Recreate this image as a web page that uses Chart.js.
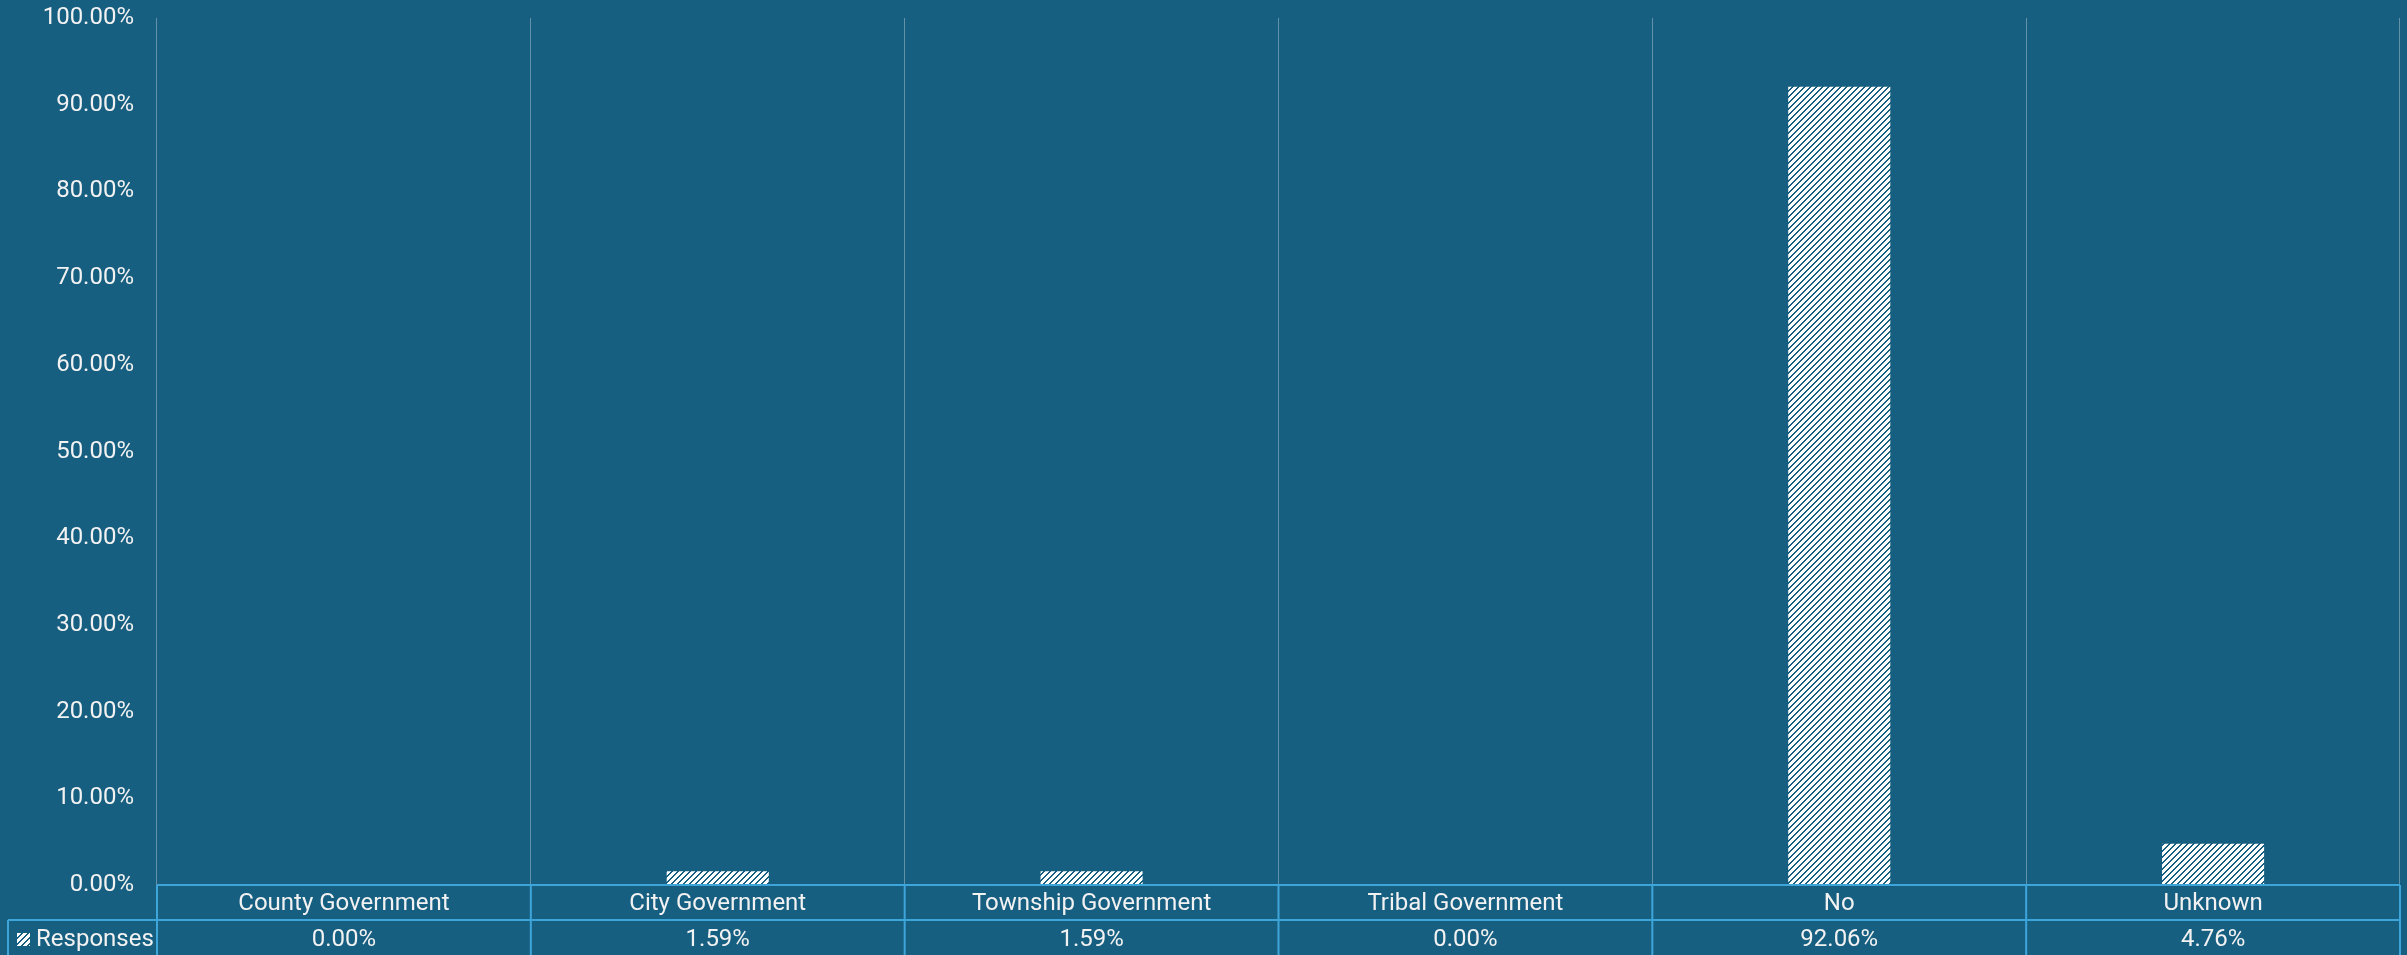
<!DOCTYPE html>
<html>
<head>
<meta charset="utf-8">
<title>Responses</title>
<script src="https://cdn.jsdelivr.net/npm/chart.js@4.4.1/dist/chart.umd.min.js"></script>
<style>
  html, body { margin: 0; padding: 0; background: #175f80; overflow: hidden; }
  #chart { display: block; }
</style>
</head>
<body>
<canvas id="chart" width="2407" height="955"></canvas>
<script>
const categories = ['County Government', 'City Government', 'Township Government', 'Tribal Government', 'No', 'Unknown'];
const responses = [0.00, 1.59, 1.59, 0.00, 92.06, 4.76];
const seriesName = 'Responses';
const yTicks = [0, 10, 20, 30, 40, 50, 60, 70, 80, 90, 100];

const BG = '#175f80';
const TEXT = '#f2f2f2';
const TABLE_LINE = '#3ea5da';
const GRID = 'rgba(255,255,255,0.32)';
const FONT = 'Roboto, "Liberation Sans", sans-serif';
const FONT_SIZE = 24;

// white tile with dark "/" stripes, like Excel's wide upward diagonal
const makeHatch = () => {
    const size = 6;
    const c = document.createElement('canvas');
    c.width = size; c.height = size;
    const g = c.getContext('2d');
    const img = g.createImageData(size, size);
    for (let y = 0; y < size; y++) {
        for (let x = 0; x < size; x++) {
            const dark = (x + y) % size < 2;
            const i = (y * size + x) * 4;
            img.data[i] = dark ? 23 : 255;
            img.data[i + 1] = dark ? 95 : 255;
            img.data[i + 2] = dark ? 128 : 255;
            img.data[i + 3] = 255;
        }
    }
    g.putImageData(img, 0, 0);
    return c;
};

const ctx = document.getElementById('chart').getContext('2d');
const hatch = ctx.createPattern(makeHatch(), 'repeat');

const bgPlugin = {
    id: 'bg',
    beforeDraw(chart) {
        const c = chart.ctx;
        c.save();
        c.fillStyle = BG;
        c.fillRect(0, 0, chart.width, chart.height);
        c.restore();
    }
};

// data table under the plot (Excel style)
const tablePlugin = {
    id: 'dataTable',
    afterDraw(chart) {
        const c = chart.ctx;
        const area = chart.chartArea;
        const xs = chart.scales.x;
        const n = categories.length;
        const step = (area.right - area.left) / n;
        const rowTop = area.bottom;
        const rowMid = rowTop + 35;
        const rowBot = chart.height;
        const legendLeft = 8;

        c.save();
        c.strokeStyle = TABLE_LINE;
        c.lineWidth = 2;
        c.beginPath();
        c.moveTo(area.left, rowTop); c.lineTo(area.right, rowTop);
        c.moveTo(legendLeft, rowMid); c.lineTo(area.right, rowMid);
        for (let i = 0; i <= n; i++) {
            const x = area.left + i * step;
            c.moveTo(x, rowTop); c.lineTo(x, rowBot);
        }
        c.moveTo(legendLeft, rowMid); c.lineTo(legendLeft, rowBot);
        c.stroke();

        c.fillStyle = TEXT;
        c.font = FONT_SIZE + 'px ' + FONT;
        c.textAlign = 'center';
        c.textBaseline = 'middle';
        categories.forEach((cat, i) => {
            const x = xs.getPixelForValue(i);
            c.fillText(cat, x, rowTop + 19);
            c.fillText(responses[i].toFixed(2) + '%', x, rowMid + 20);
        });

        // legend key
        c.fillStyle = hatch;
        c.fillRect(17, rowMid + 13, 13, 13);
        c.fillStyle = TEXT;
        c.textAlign = 'left';
        c.fillText(seriesName, 36, rowMid + 20);
        c.restore();
    }
};

new Chart(ctx, {
    type: 'bar',
    data: {
        labels: categories,
        datasets: [{
            label: seriesName,
            data: responses,
            backgroundColor: hatch,
            borderWidth: 0,
            barPercentage: 0.273,
            categoryPercentage: 1
        }]
    },
    options: {
        responsive: false,
        animation: false,
        devicePixelRatio: 1,
        layout: { padding: { left: 0, right: 7, top: 18, bottom: 70 } },
        plugins: {
            legend: { display: false },
            tooltip: { enabled: false }
        },
        scales: {
            x: {
                offset: true,
                ticks: { display: false },
                grid: { offset: true, color: GRID, lineWidth: 1, drawTicks: false },
                border: { display: false }
            },
            y: {
                min: 0,
                max: 100,
                afterFit: (scale) => {
                    scale.width = 157;
                    scale.paddingTop = 0;
                    scale.paddingBottom = 0;
                },
                afterBuildTicks: (scale) => { scale.ticks = yTicks.map(v => ({ value: v })); },
                ticks: {
                    color: TEXT,
                    font: { family: FONT, size: FONT_SIZE },
                    padding: 23,
                    callback: (v) => v.toFixed(2) + '%'
                },
                grid: { display: false, drawTicks: false },
                border: { display: false }
            }
        }
    },
    plugins: [bgPlugin, tablePlugin]
});
</script>
</body>
</html>
